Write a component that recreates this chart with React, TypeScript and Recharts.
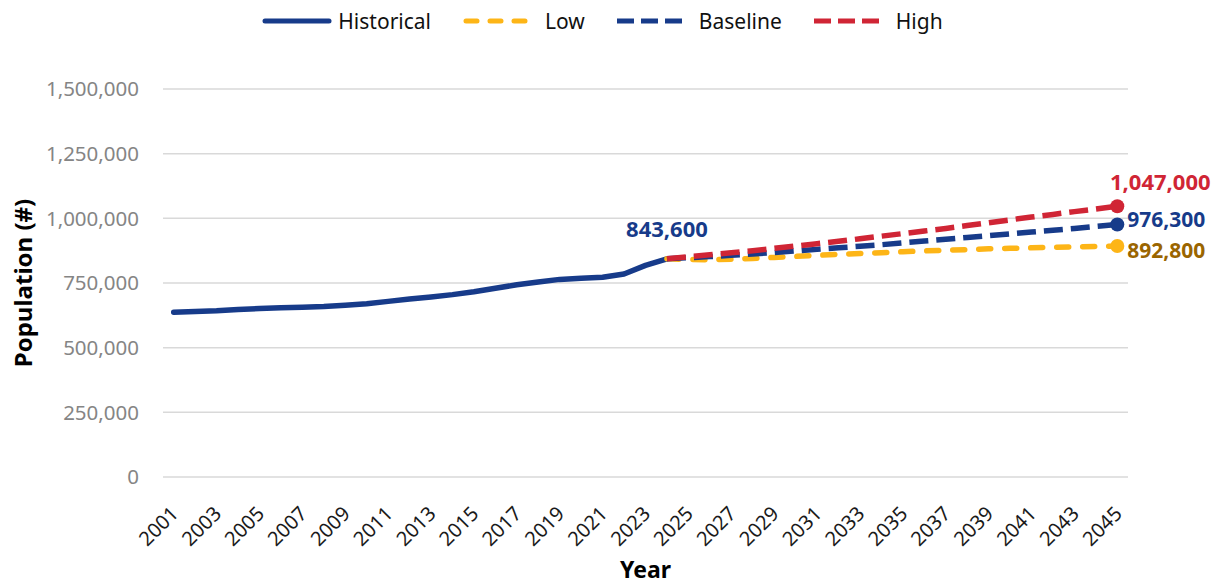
import { LineChart, Line, XAxis, YAxis, CartesianGrid } from 'recharts';

// ---------------------------------------------------------------------------
// Theme
// ---------------------------------------------------------------------------
const FONT = '"Noto Sans", "Open Sans", sans-serif';
const NAVY = '#173B8A';
const YELLOW = '#FDB517';
const RED = '#D02535';
const GOLD_TEXT = '#9A6500';
const GRID = '#D9D9D9';
const TICK_GREY = '#858585';

// ---------------------------------------------------------------------------
// Data
// ---------------------------------------------------------------------------
const YEARS = Array.from({ length: 45 }, (_, i) => String(2001 + i));
const Y_TICKS = [0, 250000, 500000, 750000, 1000000, 1250000, 1500000];

// 2001 – 2024
const HISTORICAL = [
  637000, 640000, 643000, 648000, 651000, 654000, 656000, 659000,
  664000, 670000, 679000, 688000, 696000, 705000, 716000, 730000,
  743000, 754000, 764000, 768000, 772000, 785000, 818000, 843600,
];

// 2024 – 2045
const LOW = [
  843600, 841000, 840000, 842000, 845000, 849000, 853000, 857000,
  861000, 864000, 867000, 871000, 874000, 877000, 879000, 882000,
  884000, 886000, 888000, 890000, 891500, 892800,
];
const BASELINE = [
  843600, 848000, 852000, 857000, 862000, 868000, 874000, 880000,
  886000, 892000, 898000, 905000, 912000, 919000, 926000, 933000,
  940000, 947000, 954000, 961000, 969000, 976300,
];
const HIGH = [
  843600, 851000, 859000, 867000, 875000, 884000, 893000, 902000,
  911000, 921000, 931000, 941000, 951000, 961000, 972000, 983000,
  994000, 1005000, 1015000, 1026000, 1036000, 1047000,
];

const PROJ_START = YEARS.indexOf('2024');
const LAST = YEARS.length - 1;

const chartData = YEARS.map((year, i) => ({
  year,
  historical: i < HISTORICAL.length ? HISTORICAL[i] : null,
  low: i >= PROJ_START ? LOW[i - PROJ_START] : null,
  baseline: i >= PROJ_START ? BASELINE[i - PROJ_START] : null,
  high: i >= PROJ_START ? HIGH[i - PROJ_START] : null,
}));

const fmt = (v: number) => v.toLocaleString('en-US');

// ---------------------------------------------------------------------------
// Custom pieces
// ---------------------------------------------------------------------------
function XTick({ x, y, payload }: any) {
  const ax = x + 6;
  const ay = y + 36;
  return (
    <text
      x={ax}
      y={ay}
      transform={`rotate(-45, ${ax}, ${ay})`}
      textAnchor="end"
      fill="#1A1A1A"
      fontSize={20}
      fontFamily={FONT}
    >
      {payload.value}
    </text>
  );
}

function YTitle({ viewBox }: any) {
  const cx = 22;
  const cy = viewBox.y + viewBox.height / 2;
  return (
    <text
      x={cx}
      y={cy}
      transform={`rotate(-90, ${cx}, ${cy})`}
      textAnchor="middle"
      dominantBaseline="central"
      fontSize={24}
      fontWeight={700}
      fontFamily={FONT}
      fill="#000"
    >
      Population (#)
    </text>
  );
}

function XTitle({ viewBox }: any) {
  return (
    <text
      x={viewBox.x + viewBox.width / 2}
      y={578}
      textAnchor="middle"
      fontSize={23}
      fontWeight={700}
      fontFamily={FONT}
      fill="#000"
    >
      Year
    </text>
  );
}

function endDot(color: string) {
  return (props: any) =>
    props.index === LAST ? (
      <circle key={`dot-${props.index}`} cx={props.cx} cy={props.cy} r={7} fill={color} />
    ) : (
      <g key={`dot-${props.index}`} />
    );
}

function valueLabel(
  index: number,
  color: string,
  dx: number,
  dy: number,
  anchor: string,
  size = 22,
) {
  return (props: any) => {
    if (props.index !== index || props.value == null) return <g key={`lbl-${props.index}`} />;
    return (
      <text
        key={`lbl-${props.index}`}
        x={props.x + dx}
        y={props.y + dy}
        textAnchor={anchor}
        dominantBaseline="central"
        fontSize={size}
        fontWeight={700}
        fontFamily={FONT}
        fill={color}
      >
        {fmt(props.value)}
      </text>
    );
  };
}

function LegendIcon({ color, dashed, round }: { color: string; dashed: boolean; round?: boolean }) {
  return (
    <svg width={70} height={10} style={{ marginRight: dashed ? 12 : 6 }}>
      <line
        x1={dashed ? (round ? 3 : 0) : 3}
        x2={dashed ? 65 : 67}
        y1={5}
        y2={5}
        stroke={color}
        strokeWidth={5}
        strokeLinecap={dashed && !round ? 'butt' : 'round'}
        strokeDasharray={dashed ? (round ? '11 13' : '17 7') : undefined}
      />
    </svg>
  );
}

const LEGEND = [
  { name: 'Historical', color: NAVY, dashed: false, round: false },
  { name: 'Low', color: YELLOW, dashed: true, round: true },
  { name: 'Baseline', color: NAVY, dashed: true, round: false },
  { name: 'High', color: RED, dashed: true, round: false },
];

// ---------------------------------------------------------------------------
// Component
// ---------------------------------------------------------------------------
export default function App() {
  return (
    <div
      style={{
        position: 'absolute',
        left: 0,
        top: 0,
        width: 1221,
        height: 587,
        background: '#fff',
        fontFamily: FONT,
      }}
    >
      <div
        style={{
          position: 'absolute',
          top: 7,
          left: 0,
          width: 1221,
          paddingRight: 16,
          boxSizing: 'border-box',
          display: 'flex',
          justifyContent: 'center',
          alignItems: 'center',
          fontSize: 21,
          color: '#111',
        }}
      >
        {LEGEND.map((item) => (
          <div key={item.name} style={{ display: 'flex', alignItems: 'center', margin: '0 16px' }}>
            <LegendIcon color={item.color} dashed={item.dashed} round={item.round} />
            <span>{item.name}</span>
          </div>
        ))}
      </div>

      <LineChart
        width={1221}
        height={587}
        data={chartData}
        margin={{ top: 89, right: 93, bottom: 0, left: 0 }}
      >
        <CartesianGrid horizontal vertical={false} stroke={GRID} strokeWidth={1.5} />
        <XAxis
          dataKey="year"
          interval={1}
          height={110}
          padding={{ left: 10.7, right: 10.7 }}
          axisLine={false}
          tickLine={false}
          tickSize={0}
          tick={<XTick />}
          label={<XTitle />}
        />
        <YAxis
          width={163}
          domain={[0, 1500000]}
          ticks={Y_TICKS}
          tickFormatter={fmt}
          axisLine={false}
          tickLine={false}
          tickSize={0}
          tickMargin={24}
          tick={{ fill: TICK_GREY, fontSize: 20.5, fontFamily: FONT }}
          label={<YTitle />}
        />

        <Line
          dataKey="historical"
          stroke={NAVY}
          strokeWidth={5.5}
          strokeLinecap="round"
          strokeLinejoin="round"
          dot={false}
          isAnimationActive={false}
          label={valueLabel(PROJ_START, NAVY, 0, -31, 'middle')}
        />
        <Line
          dataKey="low"
          stroke={YELLOW}
          strokeWidth={5.5}
          strokeLinecap="round"
          strokeDasharray="12 14"
          dot={endDot(YELLOW)}
          isAnimationActive={false}
          label={valueLabel(LAST, GOLD_TEXT, 10, 4, 'start', 21)}
        />
        <Line
          dataKey="baseline"
          stroke={NAVY}
          strokeWidth={5.5}
          strokeDasharray="19 8"
          dot={endDot(NAVY)}
          isAnimationActive={false}
          label={valueLabel(LAST, NAVY, 10, -5, 'start', 21)}
        />
        <Line
          dataKey="high"
          stroke={RED}
          strokeWidth={5.5}
          strokeDasharray="19 8"
          dot={endDot(RED)}
          isAnimationActive={false}
          label={valueLabel(LAST, RED, 43, -25, 'middle')}
        />
      </LineChart>
    </div>
  );
}
